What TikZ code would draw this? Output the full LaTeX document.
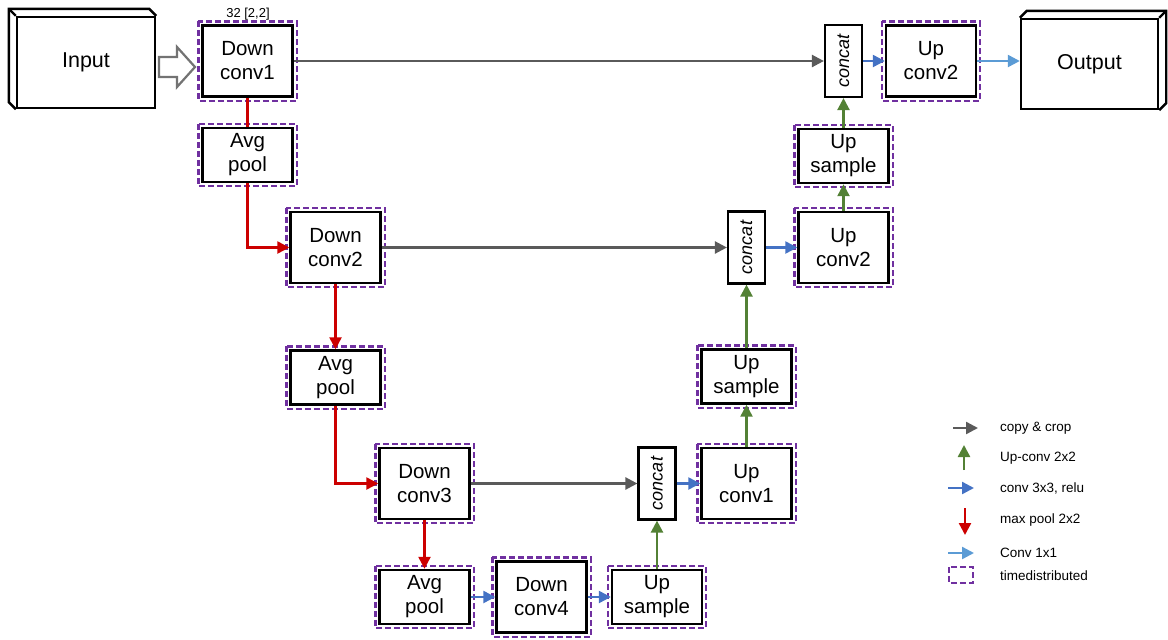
\documentclass[tikz,border=0pt]{standalone}
\usepackage{fontspec}
\setmainfont{Liberation Sans}
\usepackage{graphicx}
\usetikzlibrary{arrows.meta}
\definecolor{cpgray}{HTML}{5A5A5A}
\definecolor{upgreen}{HTML}{538135}
\definecolor{cvblue}{HTML}{4472C4}
\definecolor{lbblue}{HTML}{5B9BD5}
\definecolor{mpred}{HTML}{CC0000}
\definecolor{tdpurple}{HTML}{7030A0}

\begin{document}
\begin{tikzpicture}[x=1pt,y=-1pt,
	box/.style={draw,line width=2.4pt,inner sep=0pt,minimum width=90pt,align=center,font=\fontsize{20.5}{24}\selectfont},
	tall/.style={box,minimum height=71pt},
	short/.style={box,minimum height=54pt},
	cat/.style={draw,line width=2.2pt,inner sep=0pt,minimum width=37pt,minimum height=72pt,font=\fontsize{18}{20}\selectfont\itshape},
	volume/.style={draw,line width=2.4pt,inner sep=0pt,minimum width=138pt,minimum height=91pt,font=\fontsize{21.5}{24}\selectfont},
	conn/.style={line width=2.4pt,-{Triangle[length=12pt,width=12pt]}},
	copyarr/.style={conn,cpgray},
	uparr/.style={conn,upgreen},
	convarr/.style={conn,cvblue},
	onearr/.style={conn,lbblue},
	poolarr/.style={conn,mpred},
	tdbox/.style={draw=tdpurple,line width=2.4pt,dash pattern=on 6pt off 3pt},
	legend/.style={anchor=west,inner sep=0pt,font=\fontsize{13.5}{15}\selectfont}]
	\useasboundingbox (0,0) rectangle (1168,640);
	% input and output volumes
	\node[volume] at (86,62.5) (in) {Input};
	\draw[line width=2.4pt] (in.north east) -- ([shift={(-7,-7)}]in.north east) -- ([shift={(-7,-7)}]in.north west) -- ([shift={(-7,-7)}]in.south west) -- (in.south west);
	\draw[line width=2.4pt] (in.north west) -- ([shift={(-7,-7)}]in.north west);
	\node[volume,minimum width=137pt,minimum height=90pt] at (1089.5,64) (out) {Output};
	\draw[line width=2.4pt] (out.north west) -- ([shift={(7,-7)}]out.north west) -- ([shift={(7,-7)}]out.north east) -- ([shift={(7,-7)}]out.south east) -- (out.south east);
	\draw[line width=2.4pt] (out.north east) -- ([shift={(7,-7)}]out.north east);
	\draw[cpgray!85,line width=2.2pt] (159,57) -- (177,57) -- (177,47) -- (195,67) -- (177,87) -- (177,77) -- (159,77) -- cycle;
	% contracting path
	\node[tall] at (247.5,61) (dc1) {Down\\conv1};
	\node[font=\fontsize{13}{15}\selectfont,anchor=base] at (248,17) (sz) {32 [2,2]};
	\node[short] at (247.5,155) (ap1) {Avg\\pool};
	\node[tall] at (335.5,247.5) (dc2) {Down\\conv2};
	\node[short] at (335.5,377.5) (ap2) {Avg\\pool};
	\node[tall] at (424.5,483.5) (dc3) {Down\\conv3};
	\node[short] at (424.5,597) (ap3) {Avg\\pool};
	\node[tall] at (541.5,597) (dc4) {Down\\conv4};
	% expanding path
	\node[short] at (657,597) (us1) {Up\\sample};
	\node[cat] at (657,483.5) (cc1) {\rotatebox{90}{concat}};
	\node[tall] at (746.5,483.5) (uc1) {Up\\conv1};
	\node[short] at (746.5,376.5) (us2) {Up\\sample};
	\node[cat] at (746.5,247.5) (cc2) {\rotatebox{90}{concat}};
	\node[tall] at (843.5,247.5) (uc2) {Up\\conv2};
	\node[short] at (843.5,156) (us3) {Up\\sample};
	\node[cat] at (843.5,61) (cc3) {\rotatebox{90}{concat}};
	\node[tall] at (931,61) (uc3) {Up\\conv2};
	\foreach \n in {dc1,ap1,dc2,ap2,dc3,ap3,dc4,us1,uc1,us2,uc2,us3,uc3}
		\draw[tdbox] ([shift={(-3,-3)}]\n.north west) rectangle ([shift={(3,3)}]\n.south east);
	% connections
	\draw[mpred,line width=2.4pt] (dc1.south) -- (ap1.north);
	\draw[poolarr] (ap1.south) |- (dc2.west);
	\draw[poolarr] (dc2.south) -- (ap2.north);
	\draw[poolarr] (ap2.south) |- (dc3.west);
	\draw[poolarr] (dc3.south) -- (ap3.north);
	\draw[convarr] (ap3.east) -- (dc4.west);
	\draw[convarr] (dc4.east) -- (us1.west);
	\draw[uparr] (us1.north) -- (cc1.south);
	\draw[copyarr] (dc3.east) -- (cc1.west);
	\draw[convarr] (cc1.east) -- (uc1.west);
	\draw[uparr] (uc1.north) -- (us2.south);
	\draw[uparr] (us2.north) -- (cc2.south);
	\draw[copyarr] (dc2.east) -- (cc2.west);
	\draw[convarr] (cc2.east) -- (uc2.west);
	\draw[uparr] (uc2.north) -- (us3.south);
	\draw[uparr] (us3.north) -- (cc3.south);
	\draw[copyarr] (dc1.east) -- (cc3.west);
	\draw[convarr] (cc3.east) -- (uc3.west);
	\draw[onearr] (uc3.east) -- (uc3.east -| out.west);
	% legend
	\node[legend] at (1000,428) (lg1) {copy \& crop};
	\node[legend] at (1000,458) (lg2) {Up-conv 2x2};
	\node[legend] at (1000,488) (lg3) {conv 3x3, relu};
	\node[legend] at (1000,520) (lg4) {max pool 2x2};
	\node[legend] at (1000,553) (lg5) {Conv 1x1};
	\node[legend] at (1000,576) (lg6) {timedistributed};
	\draw[copyarr] ([shift={(-47,0)}]lg1.west) -- ([shift={(-22,0)}]lg1.west);
	\draw[uparr] ([shift={(-36,12)}]lg2.west) -- ([shift={(-36,-13)}]lg2.west);
	\draw[convarr] ([shift={(-52,0)}]lg3.west) -- ([shift={(-26,0)}]lg3.west);
	\draw[poolarr] ([shift={(-35,-12)}]lg4.west) -- ([shift={(-35,15)}]lg4.west);
	\draw[onearr] ([shift={(-52,0)}]lg5.west) -- ([shift={(-26,0)}]lg5.west);
	\draw[tdbox] ([shift={(-51,-9)}]lg6.west) rectangle ([shift={(-27,7)}]lg6.west);
\end{tikzpicture}
\end{document}
